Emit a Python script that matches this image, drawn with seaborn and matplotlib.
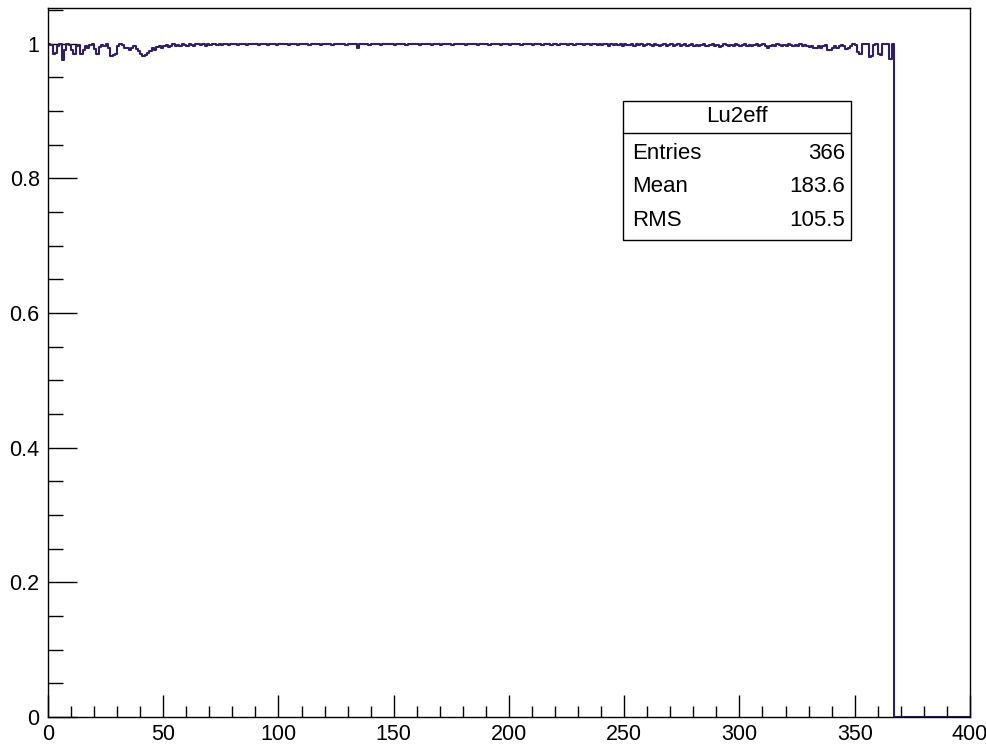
import numpy as np
import matplotlib
matplotlib.use("Agg")
import matplotlib.pyplot as plt
from matplotlib.ticker import MultipleLocator, FuncFormatter
from matplotlib.patches import Rectangle
import seaborn as sns

# efficiency per bin, bins 0..366 (bins 367..399 are empty)
eff_values = [
    1.0, 0.998, 0.985, 0.986, 0.997, 0.999, 0.976, 0.99, 0.999, 0.998,
    0.99, 0.984, 0.996, 0.998, 0.985, 0.99, 0.996, 0.993, 0.998, 0.999,
    0.992, 0.985, 0.995, 0.998, 0.996, 0.999, 0.993, 0.982, 0.983, 0.984,
    0.996, 0.999, 0.998, 0.994, 0.993, 0.99, 0.994, 0.996, 0.992, 0.989,
    0.985, 0.981, 0.983, 0.986, 0.989, 0.993, 0.99, 0.995, 0.997, 0.993,
    0.996, 0.998, 0.995, 0.997, 0.999, 0.996, 0.998, 0.997, 0.999, 0.998,
    0.997, 0.999, 0.998, 0.996, 0.999, 1.0, 0.998, 0.999, 0.997, 0.999,
    0.998, 0.999, 1.0, 0.998, 0.999, 0.998, 1.0, 0.999, 0.998, 0.999,
    1.0, 0.999, 0.998, 0.999, 0.999, 1.0, 0.998, 0.999, 1.0, 0.999,
    0.999, 0.998, 1.0, 0.999, 0.999, 0.998, 0.999, 1.0, 0.999, 0.998,
    0.999, 1.0, 0.999, 0.999, 0.998, 0.999, 1.0, 0.999, 0.998, 0.999,
    1.0, 0.999, 0.999, 0.998, 0.999, 1.0, 0.999, 0.999, 0.998, 0.999,
    0.999, 1.0, 0.999, 0.998, 0.999, 0.999, 1.0, 0.999, 0.999, 0.998,
    0.999, 1.0, 0.999, 0.999, 0.994, 0.999, 0.999, 1.0, 0.999, 0.998,
    0.999, 0.999, 1.0, 0.999, 0.998, 0.999, 0.999, 1.0, 0.999, 0.999,
    0.998, 0.999, 1.0, 0.999, 0.999, 0.998, 0.999, 1.0, 0.999, 0.999,
    0.999, 0.998, 0.999, 1.0, 0.999, 0.999, 0.998, 0.999, 1.0, 0.999,
    0.998, 0.999, 0.999, 1.0, 0.999, 0.998, 0.999, 0.999, 1.0, 0.999,
    0.999, 0.998, 0.999, 1.0, 0.999, 0.999, 0.998, 0.999, 0.999, 1.0,
    0.999, 0.998, 0.999, 0.999, 1.0, 0.999, 0.998, 0.999, 0.999, 1.0,
    0.998, 0.999, 0.999, 1.0, 0.999, 0.998, 0.999, 0.999, 1.0, 0.999,
    0.998, 0.999, 1.0, 0.999, 0.998, 0.999, 0.999, 1.0, 0.998, 0.999,
    0.999, 0.998, 0.999, 1.0, 0.999, 0.998, 0.999, 0.999, 0.998, 0.999,
    1.0, 0.999, 0.998, 0.999, 0.999, 0.998, 0.999, 1.0, 0.998, 0.999,
    0.998, 0.999, 0.999, 0.997, 0.999, 0.998, 0.999, 0.998, 0.999, 0.997,
    0.999, 0.998, 0.998, 0.999, 0.997, 0.999, 0.998, 0.999, 0.997, 0.998,
    0.999, 0.998, 0.997, 0.999, 0.998, 0.996, 0.998, 0.999, 0.997, 0.998,
    0.999, 0.997, 0.998, 0.999, 0.996, 0.998, 0.999, 0.997, 0.998, 0.999,
    0.997, 0.998, 0.996, 0.998, 0.999, 0.997, 0.996, 0.998, 0.999, 0.997,
    0.998, 0.995, 0.997, 0.999, 0.998, 0.996, 0.998, 0.997, 0.999, 0.998,
    0.996, 0.998, 0.999, 0.997, 0.998, 0.996, 0.998, 0.999, 0.997, 0.998,
    0.999, 0.997, 0.994, 0.996, 0.998, 0.997, 0.999, 0.998, 0.996, 0.998,
    0.997, 0.999, 0.998, 0.996, 0.998, 0.997, 0.999, 0.996, 0.998, 0.997,
    0.995, 0.997, 0.993, 0.994, 0.996, 0.994, 0.997, 0.998, 0.99, 0.991,
    0.994, 0.996, 0.993, 0.996, 0.998, 0.996, 0.992, 0.994, 0.997, 0.999,
    0.998, 0.987, 0.985, 0.999, 1.0, 0.999, 0.98, 0.981, 0.998, 0.999,
    0.984, 0.983, 0.999, 1.0, 1.0, 0.978, 0.999,
]
bin_centers = np.arange(len(eff_values)) + 0.5

stats_title = "Lu2eff"
stats_labels = ["Entries", "Mean", "RMS"]
stats_values = ["366", "183.6", "105.5"]

sns.set_style("ticks")
plt.rcParams["font.family"] = ["Liberation Sans", "DejaVu Sans"]
plt.rcParams["text.color"] = "black"
plt.rcParams["xtick.color"] = "black"
plt.rcParams["ytick.color"] = "black"
plt.rcParams["axes.edgecolor"] = "black"

fig = plt.figure(figsize=(9.87, 7.48), dpi=100)
# frame spans x 48..970 px, y 8..717 px
ax = fig.add_axes([0.0486, 0.0414, 0.9341, 0.9479])

sns.histplot(x=bin_centers, weights=eff_values, bins=400, binrange=(0, 400),
             element="step", fill=False, color="#2e1f66", linewidth=1.5, ax=ax)

ax.set_xlim(0, 400)
ax.set_ylim(0, 1.053)
ax.set_xlabel("")
ax.set_ylabel("")

ax.xaxis.set_major_locator(MultipleLocator(50))
ax.xaxis.set_minor_locator(MultipleLocator(10))
ax.yaxis.set_major_locator(MultipleLocator(0.2))
ax.yaxis.set_minor_locator(MultipleLocator(0.05))
ax.yaxis.set_major_formatter(FuncFormatter(lambda v, p: f"{v:g}"))

ax.tick_params(axis="x", which="major", direction="in", length=16, width=1,
               labelsize=15.5, pad=5, colors="black")
ax.tick_params(axis="x", which="minor", direction="in", length=8, width=1, colors="black")
ax.tick_params(axis="y", which="major", direction="in", length=21, width=1,
               labelsize=15.5, pad=6, colors="black")
ax.tick_params(axis="y", which="minor", direction="in", length=11, width=1, colors="black")
for s in ax.spines.values():
    s.set_visible(True)
    s.set_linewidth(1)
    s.set_color("black")

# stats box
x0, x1 = 0.624, 0.871
y0, y1, ydiv = 0.673, 0.869, 0.824
ax.add_patch(Rectangle((x0, y0), x1 - x0, y1 - y0, transform=ax.transAxes,
                       facecolor="white", edgecolor="black", linewidth=1, zorder=5))
ax.plot([x0, x1], [ydiv, ydiv], transform=ax.transAxes, color="black", linewidth=1, zorder=6)
ax.text((x0 + x1) / 2, (y1 + ydiv) / 2, stats_title, transform=ax.transAxes,
        ha="center", va="center", fontsize=16, color="black", zorder=7)
row_y = [0.795, 0.748, 0.701]
for lab, val, yy in zip(stats_labels, stats_values, row_y):
    ax.text(x0 + 0.01, yy, lab, transform=ax.transAxes, ha="left", va="center",
            fontsize=16, color="black", zorder=7)
    ax.text(x1 - 0.006, yy, val, transform=ax.transAxes, ha="right", va="center",
            fontsize=16, color="black", zorder=7)

fig.savefig("out.png", dpi=100)
